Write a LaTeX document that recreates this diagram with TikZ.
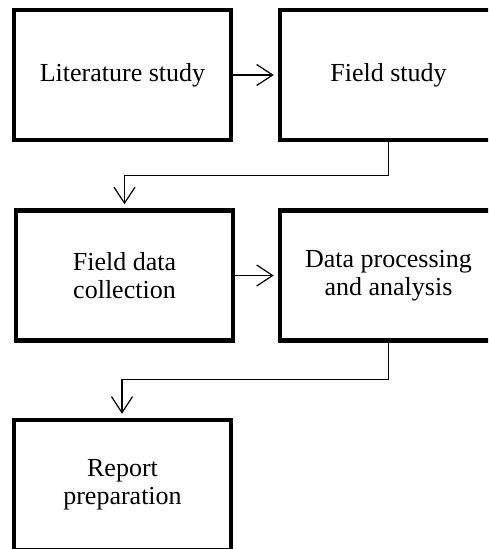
\documentclass[tikz,border=0pt]{standalone}
\usepackage{fontspec}
\setmainfont{Liberation Serif}
\usepackage{tikz}
\usetikzlibrary{arrows.meta, positioning}
\tikzset{
    stagebox/.style={draw, line width=4.5pt, minimum width=217pt, minimum height=130pt,
        align=center, inner sep=0pt, font=\fontsize{26}{28}\selectfont},
    flowarrow/.style={line width=1.2pt, -{Straight Barb[length=16pt, width=21pt, line width=1.2pt]},
        shorten >=4pt}
}
\begin{document}
\begin{tikzpicture}[x=1pt, y=-1pt]
    \clip (0,0) rectangle (488,549);
    % first row
    \node[stagebox] (lit) at (122.5, 75) {Literature study};
    \node[stagebox] (field) at (388.5, 75) {Field study};
    % second row
    \node[stagebox] (collect) at (124.5, 275.5) {Field data\\collection};
    \node[stagebox] (proc) at (388.5, 275.5) {Data processing\\and analysis};
    % last row
    \node[stagebox] (report) at (122.5, 485) {Report\\preparation};
    \draw[flowarrow] (lit) -- (field);
    \draw[flowarrow] (collect) -- (proc);
    \draw[flowarrow] (field.south) -- ++(0,33) -| (collect.north);
    \draw[flowarrow] (proc.south) -- ++(0,37) -| ([xshift=-0.5pt]report.north);
\end{tikzpicture}
\end{document}
